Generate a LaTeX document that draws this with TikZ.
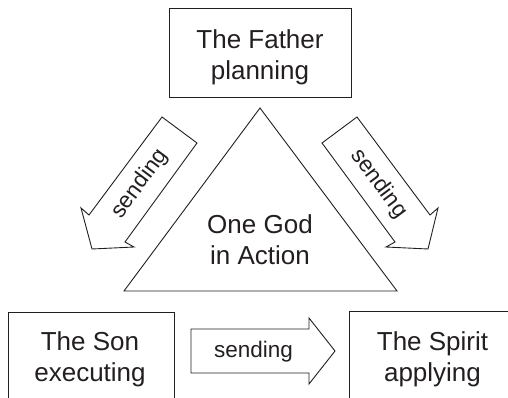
\documentclass[tikz,border=0pt]{standalone}
\usepackage{fontspec}
\setmainfont{Liberation Sans}
\definecolor{ink}{HTML}{231F20}
\begin{document}
\begin{tikzpicture}[x=1pt,y=-1pt,
  shapeline/.style={draw=ink, line width=0.9pt, fill=white},
  bigtxt/.style={text=ink, align=center, inner sep=0pt, font=\fontsize{26}{31}\selectfont},
  smalltxt/.style={text=ink, inner sep=0pt, font=\fontsize{22.5}{27}\selectfont}]
\useasboundingbox (0,0) rectangle (508,398);
\clip (0,0) rectangle (508,398);
% boxes
\draw[shapeline] (169,8) rectangle (351,97);
\node[bigtxt] (father) at (260,56.8) {The Father\\planning};
\draw[shapeline] (8,312) rectangle (174,420);
\node[bigtxt] (son) at (90,359.3) {The Son\\executing};
\draw[shapeline] (349,311) rectangle (530,420);
\node[bigtxt] (spirit) at (432.5,359.3) {The Spirit\\applying};
% triangle
\draw[shapeline, line join=miter] (260,108) -- (397,291) -- (124,291) -- cycle;
\node[bigtxt] (god) at (260,240) {One God\\in Action};
% left block arrow
\draw[shapeline] (162,117) -- (197,143) -- (125,242) -- (134,247) -- (92,249) -- (81,208) -- (89,215) -- cycle;
\node[smalltxt, rotate=53.3] (sendl) at (140,184) {sending};
% right block arrow
\draw[shapeline] (357,117) -- (322,143) -- (395,242) -- (386,247) -- (428,249) -- (438,208) -- (430,215) -- cycle;
\node[smalltxt, rotate=-53.3] (sendr) at (379,184) {sending};
% bottom block arrow
\draw[shapeline] (191,329) -- (309,329) -- (309,318) -- (335,351) -- (309,384) -- (309,373) -- (191,373) -- cycle;
\node[smalltxt] (sendb) at (253.5,352) {sending};
\end{tikzpicture}
\end{document}
